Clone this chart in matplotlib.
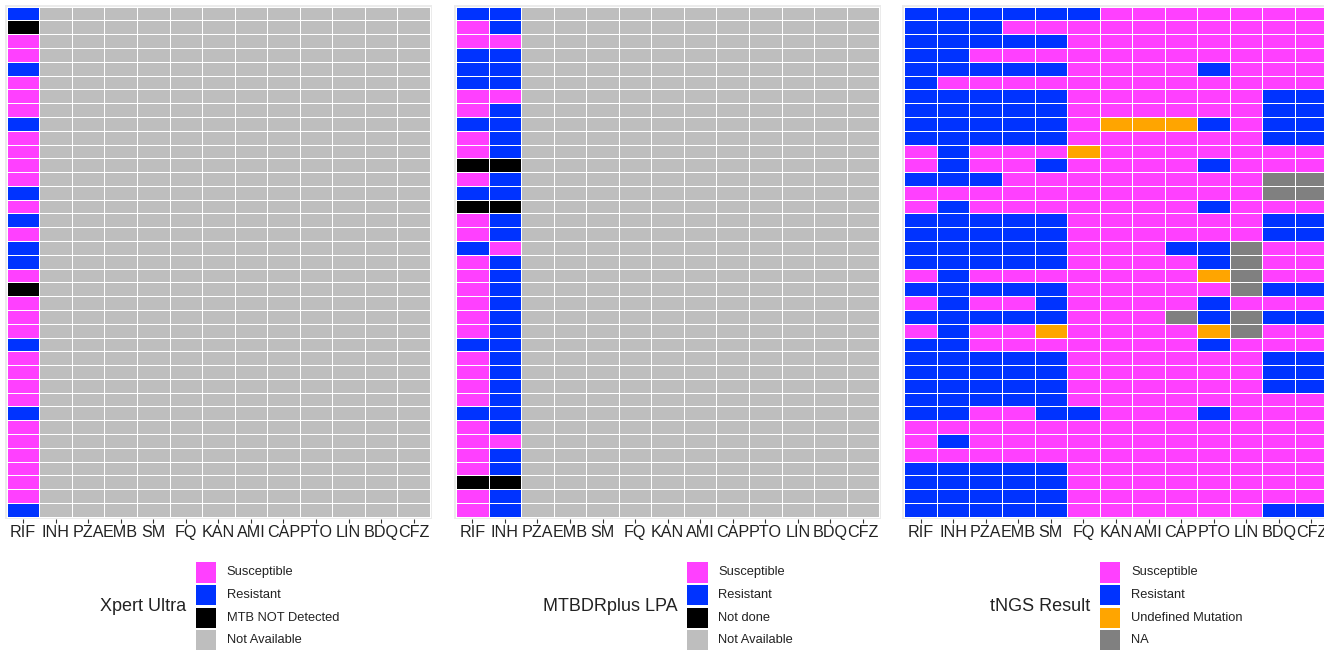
import matplotlib
matplotlib.use("Agg")
import matplotlib.pyplot as plt
import numpy as np
from matplotlib.colors import ListedColormap
from matplotlib.patches import Rectangle

plt.rcParams['font.family'] = ['Liberation Sans', 'DejaVu Sans']

drugs = ["RIF", "INH", "PZA", "EMB", "SM", "FQ", "KAN", "AMI", "CAP", "PTO", "LIN", "BDQ", "CFZ"]

# ---- Xpert Ultra (RIF only) : S=Susceptible, R=Resistant, M=MTB NOT Detected
xpert_rif = "RMSSRSSSRSSSSRSRSRRSMSSSRSSSSRSSSSSSR"

# ---- MTBDRplus LPA (RIF, INH) : S, R, D=Not done
lpa_rif = "RSSRRRSSR" "SSDSRD" "SSRSSSSSSR" "SSSSR" "SSSSDSS"
lpa_inh = "RRSRRRSRR" "RRDRRD" "RRSRRRRRRR" "RRRRR" "RSRRDRR"

# ---- tNGS result : S, R, U=Undefined Mutation, A=NA
tngs_rows = [
    "RRRRRRSSSSSSS",
    "RRRSSSSSSSSSS",
    "RRRRRSSSSSSSS",
    "RRSSSSSSSSSSS",
    "RRRRRSSSSRSSS",
    "RSSSSSSSSSSSS",
    "RRRRRSSSSSSRR",
    "RRRRRSSSSSSRR",
    "RRRRRSUUURSRR",
    "RRRRRSSSSSSRR",
    "SRSSSUSSSSSSS",
    "SRSSRSSSSRSSS",
    "RRRSSSSSSSSAA",
    "SSSSSSSSSSSAA",
    "SRSSSSSSSRSSS",
    "RRRRRSSSSSSRR",
    "RRRRRSSSSSSRR",
    "RRRRRSSSRRASS",
    "RRRRRSSSSRASS",
    "SRSSSSSSSUASS",
    "RRRRRSSSSSARR",
    "SRSSRSSSSRSSS",
    "RRRRRSSSARARR",
    "SRSSUSSSSUASS",
    "RRSSSSSSSRSSS",
    "RRRRRSSSSSSRR",
    "RRRRRSSSSSSRR",
    "RRRRRSSSSSSRR",
    "RRRRRSSSSSSSS",
    "RRSSRRSSSRSSS",
    "SSSSSSSSSSSSS",
    "SRSSSSSSSSSSS",
    "SSSSSSSSSSSSS",
    "RRRRRSSSSSSSS",
    "RRRRRSSSSSSSS",
    "RRRRRSSSSSSSS",
    "RRRRRSSSSSSRR",
]

xpert_title = "Xpert Ultra"
xpert_levels = ["Susceptible", "Resistant", "MTB NOT Detected", "Not Available"]
xpert_codes = ["S", "R", "M", "N"]
lpa_title = "MTBDRplus LPA"
lpa_levels = ["Susceptible", "Resistant", "Not done", "Not Available"]
lpa_codes = ["S", "R", "D", "N"]
tngs_title = "tNGS Result"
tngs_levels = ["Susceptible", "Resistant", "Undefined Mutation", "NA"]
tngs_codes = ["S", "R", "U", "A"]

PINK = "#FF40FF"
BLUE = "#0033FF"
xpert_colors = [PINK, BLUE, "#000000", "#BEBEBE"]
lpa_colors = [PINK, BLUE, "#000000", "#BEBEBE"]
tngs_colors = [PINK, BLUE, "#FFA500", "#808080"]

n_rows = len(xpert_rif)
n_cols = len(drugs)

# Build full matrices
xpert_mat = [[xpert_rif[r]] + ["N"] * (n_cols - 1) for r in range(n_rows)]
lpa_mat = [[lpa_rif[r], lpa_inh[r]] + ["N"] * (n_cols - 2) for r in range(n_rows)]
tngs_mat = [list(row) for row in tngs_rows]

panels = [
    (xpert_mat, xpert_codes, xpert_colors, xpert_levels, xpert_title),
    (lpa_mat, lpa_codes, lpa_colors, lpa_levels, lpa_title),
    (tngs_mat, tngs_codes, tngs_colors, tngs_levels, tngs_title),
]

W, H = 1324, 650
fig = plt.figure(figsize=(W / 100, H / 100), dpi=100)

tile_x0 = [6.7, 456.0, 904.3]
tile_w = 423.3
tile_top, tile_bot = 6.7, 516.7
margin = 2.0
key_x = [195.7, 687.3, 1100.0]

def fx(x):
    return x / W

def fy(y):
    return 1 - y / H

for i, (mat, codes, colors, levels, title) in enumerate(panels):
    left = tile_x0[i] - margin
    right = tile_x0[i] + tile_w + margin
    top = tile_top - margin
    bot = tile_bot + margin
    ax = fig.add_axes([fx(left), fy(bot), (right - left) / W, (bot - top) / H])
    ax.set_facecolor("#EBEBEB")
    idx = np.array([[codes.index(c) for c in row] for row in mat])
    cmap = ListedColormap(colors)
    xe = np.arange(n_cols + 1) - 0.5
    ye = np.arange(n_rows + 1) - 0.5
    ax.pcolormesh(xe, ye, idx, cmap=cmap, vmin=-0.5, vmax=len(colors) - 0.5,
                  edgecolors="white", linewidth=0.6)
    ex = margin / (tile_w / n_cols)
    ey = margin / ((tile_bot - tile_top) / n_rows)
    ax.set_xlim(-0.5 - ex, n_cols - 0.5 + ex)
    ax.set_ylim(n_rows - 0.5 + ey, -0.5 - ey)
    for s in ax.spines.values():
        s.set_visible(False)
    ax.set_xticks(range(n_cols))
    ax.set_xticklabels(drugs, fontsize=11.6, color="#222222")
    ax.set_yticks([])
    ax.tick_params(axis="x", length=2.6, width=0.8, color="#333333", pad=2.2)

    # legend
    kx = key_x[i]
    ky0 = 562.3
    pitch = 22.6
    ks = 20.4
    for j, (lab, col) in enumerate(zip(levels, colors)):
        y = ky0 + j * pitch
        fig.add_artist(Rectangle((fx(kx), fy(y + ks)), ks / W, ks / H,
                                 transform=fig.transFigure, facecolor=col,
                                 edgecolor="none"))
        fig.text(fx(kx + 31), fy(y + ks / 2), lab, fontsize=9.3,
                 ha="left", va="center", color="#222222")
    fig.text(fx(kx - 10), fy(ky0 + 2 * pitch - 1), title, fontsize=13,
             ha="right", va="center", color="#222222")

fig.savefig("out.png", dpi=100, facecolor="white")
